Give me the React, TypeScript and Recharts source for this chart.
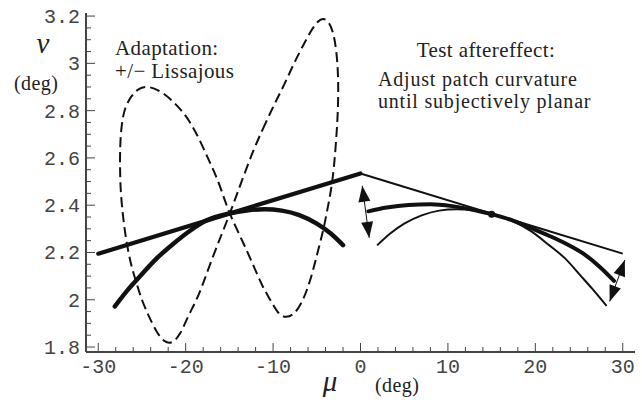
import { LineChart, Line, XAxis, YAxis, ReferenceDot } from "recharts";

document.body.style.margin = "0";

type Pt = [number, number];

const X_DOMAIN: [number, number] = [-31.4, 31.4];
const Y_DOMAIN: [number, number] = [1.779, 3.213];

const xMajorTicks = [-30, -20, -10, 0, 10, 20, 30];
const xMinorTicks = [-28, -26, -24, -22, -18, -16, -14, -12, -8, -6, -4, -2, 2, 4, 6, 8, 12, 14, 16, 18, 22, 24, 26, 28];
const yMajorTicks = [1.8, 2, 2.2, 2.4, 2.6, 2.8, 3, 3.2];
const yMinorTicks = [1.85, 1.9, 1.95, 2.05, 2.1, 2.15, 2.25, 2.3, 2.35, 2.45, 2.5, 2.55, 2.65, 2.7, 2.75, 2.85, 2.9, 2.95, 3.05, 3.1, 3.15];

// adaptation stimulus: dashed Lissajous loop, points in drawing order
const lissajous: Pt[] = [
  [-11.2, 2.72], [-10.0, 2.815], [-8.8, 2.905], [-7.6, 3.0], [-6.5, 3.08], [-5.6, 3.14],
  [-4.9, 3.175], [-4.3, 3.188], [-3.6, 3.17], [-3.0, 3.105], [-2.65, 3.0], [-2.55, 2.89],
  [-2.62, 2.78], [-2.8, 2.67], [-3.05, 2.56], [-3.4, 2.46], [-3.85, 2.37], [-4.3, 2.29],
  [-5.0, 2.187], [-5.8, 2.078], [-6.7, 1.992], [-7.6, 1.943], [-8.5, 1.928], [-9.4, 1.945],
  [-10.3, 1.998], [-11.2, 2.058], [-12.1, 2.132], [-13.0, 2.207], [-14.0, 2.287], [-14.95, 2.365],
  [-15.7, 2.44], [-16.5, 2.52], [-17.4, 2.595], [-18.4, 2.675], [-19.5, 2.75], [-20.6, 2.805],
  [-21.8, 2.85], [-23.1, 2.885], [-24.4, 2.9], [-25.4, 2.89], [-26.2, 2.86], [-26.9, 2.81],
  [-27.3, 2.74], [-27.48, 2.65], [-27.5, 2.55], [-27.4, 2.45], [-27.15, 2.35], [-26.8, 2.255],
  [-26.3, 2.16], [-25.7, 2.08], [-25.0, 2.0], [-24.2, 1.93], [-23.3, 1.865], [-22.4, 1.825],
  [-21.5, 1.822], [-20.6, 1.86], [-19.7, 1.93], [-18.8, 1.998], [-17.9, 2.08], [-16.9, 2.18],
  [-15.9, 2.275], [-14.95, 2.365], [-14.1, 2.45], [-13.2, 2.54], [-12.2, 2.635], [-11.2, 2.72],
];

const adaptLine: Pt[] = [[-30, 2.195], [0, 2.534]];
const testLine: Pt[] = [[0, 2.534], [30, 2.195]];

const adaptCurve: Pt[] = [
  [-28.1, 1.972], [-26.5, 2.047], [-25.25, 2.098], [-23.4, 2.172], [-21.44, 2.236],
  [-19.5, 2.292], [-17.6, 2.336], [-15, 2.365], [-13, 2.378], [-11, 2.383], [-9, 2.377],
  [-7, 2.358], [-5, 2.322], [-3.4, 2.28], [-2, 2.231],
];

const testCurveThick: Pt[] = [
  [0.9, 2.374], [3, 2.39], [5.5, 2.401], [8, 2.404], [10.5, 2.396], [13, 2.38], [15, 2.362],
  [17.5, 2.334], [19.75, 2.3], [21.5, 2.272], [23.57, 2.236], [25.5, 2.195], [27.38, 2.139], [29, 2.08],
];

const testCurveThin: Pt[] = [
  [1.9, 2.23], [3.4, 2.28], [5, 2.322], [7, 2.357], [9, 2.377], [11, 2.383], [13, 2.377],
  [15, 2.362], [17.6, 2.33], [19.5, 2.29], [21.44, 2.235], [23.4, 2.175], [25.25, 2.099],
  [26.5, 2.047], [28.15, 1.974],
];

const arrowLeft: Pt[] = [[0.2, 2.482], [1.0, 2.262]];
const arrowRight: Pt[] = [[30.24, 2.168], [28.5, 1.993]];
const tangentPoint: Pt = [15, 2.362];

const toRows = (pts: Pt[]) => pts.map(([x, y]) => ({ x, y }));

const xTicks = [...xMajorTicks, ...xMinorTicks].sort((a, b) => a - b);
const yTicks = [...yMajorTicks, ...yMinorTicks].sort((a, b) => a - b);

const isMajor = (v: number, list: number[]) => list.some((m) => Math.abs(m - v) < 1e-6);

const FRAME = "#444";
const INK = "#111";
const TEXT = "#222";
const MONO = "Liberation Mono, monospace";
const SERIF = "Liberation Serif, DejaVu Serif, serif";

function FrameTick(props: any) {
  const { x, y, payload, side } = props;
  const v = payload.value as number;
  const major = isMajor(v, side === "bottom" || side === "top" ? xMajorTicks : yMajorTicks);
  const len = major ? 9 : 5;
  let line;
  if (side === "bottom") line = <line x1={x} y1={y} x2={x} y2={y - len} />;
  else if (side === "top") line = <line x1={x} y1={y} x2={x} y2={y + len} />;
  else if (side === "left") line = <line x1={x} y1={y} x2={x + len} y2={y} />;
  else line = <line x1={x} y1={y} x2={x - len} y2={y} />;
  return (
    <g stroke={FRAME} strokeWidth={1}>
      {line}
      {major && side === "bottom" && (
        <text x={x} y={y + 21} textAnchor="middle" stroke="none" fill="#444" style={{ fontFamily: MONO }} fontSize={20}>
          {String(v)}
        </text>
      )}
      {major && side === "left" && (
        <text x={x - 6} y={y} dy="0.35em" textAnchor="end" stroke="none" fill="#444" style={{ fontFamily: MONO }} fontSize={20}>
          {String(v)}
        </text>
      )}
    </g>
  );
}

function ArrowHead(props: any) {
  const { cx, cy, index, points } = props;
  if (!points || points.length < 2) return <g key={`ah-${index}`} />;
  const other = points[index === 0 ? 1 : 0];
  const dx = cx - other.x;
  const dy = cy - other.y;
  const d = Math.hypot(dx, dy) || 1;
  const ux = dx / d;
  const uy = dy / d;
  const L = 16;
  const W = 6;
  const bx = cx - ux * L;
  const by = cy - uy * L;
  const pts = `${cx},${cy} ${bx - uy * W},${by + ux * W} ${bx + uy * W},${by - ux * W}`;
  return <polygon key={`ah-${index}`} points={pts} fill={INK} stroke="none" />;
}

function Note(props: {
  x: number;
  y: number;
  size?: number;
  italic?: boolean;
  anchor?: string;
  spacing?: number;
  children: string;
}) {
  const { x, y, size = 21, italic = false, anchor = "start", spacing = 0.4, children } = props;
  return (
    <text
      x={x}
      y={y}
      textAnchor={anchor}
      fill={TEXT}
      style={{
        fontFamily: SERIF,
        fontSize: size,
        fontStyle: italic ? "italic" : "normal",
        letterSpacing: italic ? 0 : spacing,
      }}
    >
      {children}
    </text>
  );
}

const frameLine = { stroke: FRAME, strokeWidth: 2 };

export default function App() {
  return (
    <LineChart width={642} height={402} margin={{ top: 13, right: 7, bottom: 0, left: 0 }}>
      <XAxis
        xAxisId="main"
        dataKey="x"
        type="number"
        domain={X_DOMAIN}
        allowDataOverflow
        ticks={xTicks}
        interval={0}
        height={50}
        tickSize={0}
        tickMargin={0}
        tickLine={false}
        axisLine={frameLine}
        tick={(p: any) => <FrameTick {...p} side="bottom" />}
      />
      <XAxis
        xAxisId="top"
        orientation="top"
        type="number"
        domain={X_DOMAIN}
        allowDataOverflow
        ticks={xTicks}
        interval={0}
        height={0}
        tickSize={0}
        tickMargin={0}
        tickLine={false}
        axisLine={frameLine}
        tick={(p: any) => <FrameTick {...p} side="top" />}
      />
      <YAxis
        yAxisId="main"
        type="number"
        domain={Y_DOMAIN}
        allowDataOverflow
        ticks={yTicks}
        interval={0}
        width={86}
        tickSize={0}
        tickMargin={0}
        tickLine={false}
        axisLine={frameLine}
        tick={(p: any) => <FrameTick {...p} side="left" />}
      />
      <YAxis
        yAxisId="right"
        orientation="right"
        type="number"
        domain={Y_DOMAIN}
        allowDataOverflow
        ticks={yTicks}
        interval={0}
        width={0}
        tickSize={0}
        tickMargin={0}
        tickLine={false}
        axisLine={frameLine}
        tick={(p: any) => <FrameTick {...p} side="right" />}
      />

      <Line xAxisId="main" yAxisId="main" data={toRows(lissajous)} dataKey="y" type="natural"
        stroke={INK} strokeWidth={2} strokeDasharray="10 5" dot={false} activeDot={false} isAnimationActive={false} />
      <Line xAxisId="main" yAxisId="main" data={toRows(adaptLine)} dataKey="y" type="linear"
        stroke={INK} strokeWidth={4.2} strokeLinecap="round" dot={false} activeDot={false} isAnimationActive={false} />
      <Line xAxisId="main" yAxisId="main" data={toRows(testLine)} dataKey="y" type="linear"
        stroke={INK} strokeWidth={2} dot={false} activeDot={false} isAnimationActive={false} />
      <Line xAxisId="main" yAxisId="main" data={toRows(adaptCurve)} dataKey="y" type="monotone"
        stroke={INK} strokeWidth={4.5} strokeLinecap="round" dot={false} activeDot={false} isAnimationActive={false} />
      <Line xAxisId="main" yAxisId="main" data={toRows(testCurveThick)} dataKey="y" type="monotone"
        stroke={INK} strokeWidth={4} strokeLinecap="round" dot={false} activeDot={false} isAnimationActive={false} />
      <Line xAxisId="main" yAxisId="main" data={toRows(testCurveThin)} dataKey="y" type="monotone"
        stroke={INK} strokeWidth={2} dot={false} activeDot={false} isAnimationActive={false} />
      <Line xAxisId="main" yAxisId="main" data={toRows(arrowLeft)} dataKey="y" type="linear"
        stroke={INK} strokeWidth={1} dot={(p: any) => <ArrowHead {...p} />} activeDot={false} isAnimationActive={false} />
      <Line xAxisId="main" yAxisId="main" data={toRows(arrowRight)} dataKey="y" type="linear"
        stroke={INK} strokeWidth={1} dot={(p: any) => <ArrowHead {...p} />} activeDot={false} isAnimationActive={false} />
      <ReferenceDot xAxisId="main" yAxisId="main" x={tangentPoint[0]} y={tangentPoint[1]} r={3.5} fill={INK} stroke="none" />

      <Note x={115} y={55}>Adaptation:</Note>
      <Note x={115} y={78}>+/− Lissajous</Note>
      <Note x={486} y={57} anchor="middle">Test aftereffect:</Note>
      <Note x={378} y={85.5} size={20} spacing={0.8}>Adjust patch curvature</Note>
      <Note x={378} y={108} size={20} spacing={0.8}>until subjectively planar</Note>
      <Note x={43} y={53} size={29} italic anchor="middle">ν</Note>
      <Note x={14} y={90} size={20}>(deg)</Note>
      <Note x={330} y={391} size={29} italic anchor="middle">μ</Note>
      <Note x={375} y={392} size={20}>(deg)</Note>
    </LineChart>
  );
}
